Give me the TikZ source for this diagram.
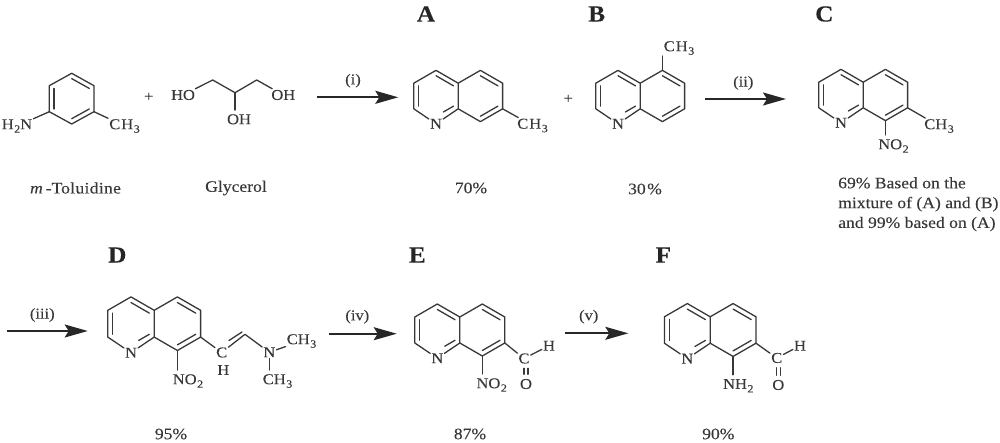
\documentclass[tikz,border=0pt]{standalone}
\usepackage{fontspec}
\setmainfont[FakeStretch=1.1,FakeBold=0.12]{Liberation Serif}
\usetikzlibrary{calc,arrows.meta}
\definecolor{ink}{HTML}{383838}
\newcommand{\lowidx}[1]{\kern0.5pt\raisebox{-3.5pt}{\fontsize{11}{11}\selectfont #1}}
\newcommand{\quin}[4]{%
  \pgfmathsetmacro{\hw}{#4}\pgfmathsetmacro{\rr}{#4/0.866}\pgfmathsetmacro{\rh}{\rr/2}%
  \begin{scope}[shift={(#2,#3)}]
  \coordinate (#1-l) at (0,0);
  \coordinate (#1-r) at (2*\hw,0);
  \coordinate (#1-a) at (0,-\rr);
  \coordinate (#1-b) at (-\hw,-\rh);
  \coordinate (#1-c) at (-\hw,\rh);
  \coordinate (#1-n) at (0,\rr);
  \coordinate (#1-d) at (\hw,\rh);
  \coordinate (#1-e) at (\hw,-\rh);
  \coordinate (#1-f) at (2*\hw,-\rr);
  \coordinate (#1-g) at (3*\hw,-\rh);
  \coordinate (#1-h) at (3*\hw,\rh);
  \coordinate (#1-i) at (2*\hw,\rr);
  \node[lab] (#1-N) at (0,\rr+2.2) {N};
  \end{scope}
  \draw[bond] (#1-N) -- (#1-c) -- (#1-b) -- (#1-a) -- (#1-e) -- (#1-f) -- (#1-g) -- (#1-h) -- (#1-i) -- (#1-d) -- (#1-e);
  \draw[bond] (#1-N) -- (#1-d);
  \draw[bond] ($(#1-b)!.21!(#1-l)$) -- ($(#1-c)!.21!(#1-l)$);
  \draw[bond] ($(#1-a)!.21!(#1-l)$) -- ($(#1-e)!.21!(#1-l)$);
  \draw[bond] ($($(#1-n)!.42!(#1-d)$)!.21!(#1-l)$) -- ($(#1-d)!.21!(#1-l)$);
  \draw[bond] ($(#1-f)!.21!(#1-r)$) -- ($(#1-g)!.21!(#1-r)$);
  \draw[bond] ($(#1-h)!.21!(#1-r)$) -- ($(#1-i)!.21!(#1-r)$);
}
\tikzset{
  x=1pt,y=-1pt,
  bond/.style={draw=ink,line width=1.3pt,line cap=round,line join=round},
  lab/.style={inner sep=1pt,text=ink,font=\fontsize{15}{15}\selectfont},
  captxt/.style={inner sep=0pt,text=ink,font=\fontsize{16}{19.8}\selectfont},
  title/.style={inner sep=0pt,text=black!85,font=\fontsize{23}{23}\selectfont\bfseries},
  rxn/.style={draw=ink!70!black,line width=1.7pt,-{Stealth[length=23pt,width=13pt,inset=4pt]}},
  gap/.style={shorten >=3pt},
  dash2/.style={shorten >=3.5pt,shorten <=3.5pt},
}
\begin{document}
\begin{tikzpicture}
\useasboundingbox (0,0) rectangle (1000,443);
% titles
\node[title] (tA) at (426,14) {A};
\node[title] (tB) at (596.7,14) {B};
\node[title] (tC) at (824.3,14) {C};
\node[title] (tD) at (117.3,255) {D};
\node[title] (tE) at (417.3,255) {E};
\node[title] (tF) at (663.3,255) {F};
% toluidine
\coordinate (t0) at (71.7,98.7);
\coordinate (t1) at (71.7,73.3);
\coordinate (t2) at (94,85.7);
\coordinate (t3) at (94,111.7);
\coordinate (t4) at (71.7,124);
\coordinate (t5) at (49.3,111.7);
\coordinate (t6) at (49.3,85.7);
\draw[bond] (t1) -- (t2) -- (t3) -- (t4) -- (t5) -- (t6) -- cycle;
\draw[bond] ($(t1)!.21!(t0)$) -- ($(t2)!.21!(t0)$);
\draw[bond] ($(t3)!.21!(t0)$) -- ($(t4)!.21!(t0)$);
\draw[bond] ($(t5)!.21!(t0)$) -- ($(t6)!.21!(t0)$);
\node[lab] (tN) at (17,126) {H\lowidx{2}N};
\node[lab] (tM) at (124.5,126) {C\kern1pt H\lowidx{3}};
\draw[bond] (t5) -- (tN);
\draw[bond] (t3) -- (tM);
\node[lab] (pl1) at (148.7,97) {+};
% glycerol
\node[lab] (g1) at (183,95) {HO};
\node[lab] (g2) at (283.3,95) {OH};
\node[lab] (g3) at (239,119.3) {OH};
\coordinate (ga) at (212.7,80);
\coordinate (gb) at (235,92.7);
\coordinate (gc) at (256.7,80);
\draw[bond] (g1) -- (ga) -- (gb) -- (gc) -- (g2);
\draw[bond,gap] (gb) -- (gb |- g3.north);
% arrows
\coordinate (a1s) at (317,97.3); \coordinate (a1e) at (398.3,97.3);
\coordinate (a2s) at (705,99); \coordinate (a2e) at (786,99);
\coordinate (a3s) at (6.7,331); \coordinate (a3e) at (87.7,331);
\coordinate (a4s) at (329,333.7); \coordinate (a4e) at (396.7,333.7);
\coordinate (a5s) at (565,333.3); \coordinate (a5e) at (628.3,333.3);
\draw[rxn] (a1s) -- (a1e);
\draw[rxn] (a2s) -- (a2e);
\draw[rxn] (a3s) -- (a3e);
\draw[rxn] (a4s) -- (a4e);
\draw[rxn] (a5s) -- (a5e);
\node[lab] (l1) at (353,80.7) {(i)};
\node[lab] (l2) at (743.3,83) {(ii)};
\node[lab] (l3) at (42.3,315) {(iii)};
\node[lab] (l4) at (357.3,316.7) {(iv)};
\node[lab] (l5) at (588.7,316.7) {(v)};
% A
\quin{A}{436}{96}{22.2}
\node[lab] (Am) at (532.5,125.5) {C\kern1pt H\lowidx{3}};
\draw[bond] (A-h) -- (Am);
\node[lab] (pl2) at (568.3,99) {+};
% B
\quin{B}{618}{96}{22.2}
\node[lab] (Bm) at (679,48) {C\kern1pt H\lowidx{3}};
\draw[bond] (B-f) -- (B-f |- Bm.south);
% C
\quin{C}{841}{95}{22.2}
\node[lab] (Cm) at (939,126) {CH\lowidx{3}};
\draw[bond] (C-h) -- (Cm);
\node[lab] (Cn) at (893.5,146) {NO\lowidx{2}};
\draw[bond,gap] (C-i) -- (C-i |- Cn.north);
% D
\quin{D}{131}{323.7}{23.2}
\node[lab] (Dn) at (188,381) {NO\lowidx{2}};
\draw[bond,gap] (D-i) -- (D-i |- Dn.north);
\node[lab] (DC) at (221.7,352.5) {C};
\node[lab] (DH) at (223.3,370) {H};
\node[lab] (DN) at (269.3,352.3) {N};
\node[lab] (Dm1) at (301.5,341) {CH\lowidx{3}};
\node[lab] (Dm2) at (277.5,381) {CH\lowidx{3}};
\coordinate (Dv) at (245,334.3);
\coordinate (Dw1) at (229,340.5);
\coordinate (Dw2) at (242,332);
\draw[bond] (D-h) -- (DC);
\draw[bond] (DC) -- (Dv) -- (DN);
\draw[bond] (Dw1) -- (Dw2);
\draw[bond] (DN) -- (Dm1);
\draw[bond,gap] (DN.south) -- (DN.south |- Dm2.north);
% E
\quin{E}{437.3}{330}{22.5}
\node[lab] (En) at (491.7,385) {NO\lowidx{2}};
\draw[bond,gap] (E-i) -- (E-i |- En.north);
\node[lab] (EC) at (524,358.5) {C};
\node[lab] (EH) at (549,345.7) {H};
\node[lab] (EO) at (526,384) {O};
\draw[bond] (E-h) -- (EC);
\draw[bond] (EC) -- (EH);
\draw[bond,dash2] ([xshift=0pt]EC.south) -- ([xshift=0pt]EC.south |- EO.north);
\draw[bond,dash2] ([xshift=4pt]EC.south) -- ([xshift=4pt]EC.south |- EO.north);
% F
\quin{F}{687.3}{330}{22.9}
\node[lab] (Fn) at (738.3,385.7) {NH\lowidx{2}};
\draw[bond,gap] (F-i) -- (F-i |- Fn.north);
\node[lab] (FC) at (776.7,358) {C};
\node[lab] (FH) at (800,345.7) {H};
\node[lab] (FO) at (778.3,385) {O};
\draw[bond] (F-h) -- (FC);
\draw[bond] (FC) -- (FH);
\draw[bond,dash2] ([xshift=0pt]FC.south) -- ([xshift=0pt]FC.south |- FO.north);
\draw[bond,dash2] ([xshift=4pt]FC.south) -- ([xshift=4pt]FC.south |- FO.north);
% captions
\node[captxt] (c1) at (75.5,188) {\textit{m}\kern3pt -To\kern0.3pt l\kern0.3pt u\kern0.3pt i\kern0.3pt d\kern0.3pt i\kern0.3pt n\kern0.3pt e};
\node[captxt] (c2) at (236,188) {Glycerol};
\node[captxt] (c3) at (471,188) {70\%};
\node[captxt] (c4) at (645,189) {30\kern1.5pt\%};
\node[captxt,align=left,anchor=north west] (c5) at (838,177) {69\% Based on the\\mixture of (A) and (B)\\and 99\% based on (A)};
\node[captxt] (c6) at (171,434) {95\%};
\node[captxt] (c7) at (470,434) {87\%};
\node[captxt] (c8) at (718.3,434) {90\%};
\end{tikzpicture}
\end{document}
